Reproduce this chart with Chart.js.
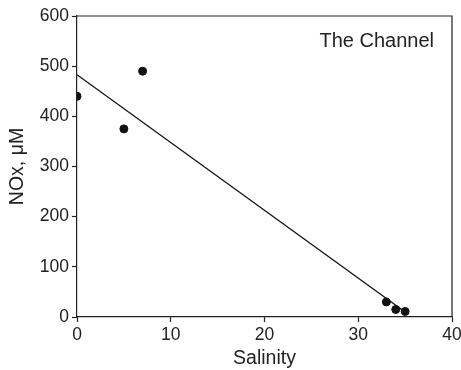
<!DOCTYPE html>
<html>
<head>
<meta charset="utf-8">
<script src="https://cdn.jsdelivr.net/npm/chart.js@4/dist/chart.umd.min.js"></script>
<style>
  html, body { margin: 0; padding: 0; background: #fff; }
  #noxChart { display: block; }
</style>
</head>
<body>
<canvas id="noxChart" width="461" height="370"></canvas>
<script>
// Station samples
var salinity = [0, 5, 7, 33, 34, 35];
var nox = [440, 375, 490, 30, 15, 11];

// Fitted line end points
var fitX = [0, 35];
var fitY = [483, 10];

var xTicks = [0, 10, 20, 30, 40];
var yTicks = [0, 100, 200, 300, 400, 500, 600];

var siteName = 'The Channel';

var inkColor = '#222';
var font = "'Liberation Sans', Arial, sans-serif";

// frame around the plot and the site label
var framePlugin = {
    id: 'frame',
    afterDraw: function (chart) {
        var a = chart.chartArea;
        var c = chart.ctx;
        c.save();
        c.strokeStyle = inkColor;
        c.lineWidth = 1.2;
        c.beginPath();
        c.moveTo(a.left, a.top);
        c.lineTo(a.right, a.top);
        c.lineTo(a.right, a.bottom);
        c.stroke();
        c.fillStyle = inkColor;
        c.font = '20px ' + font;
        c.textAlign = 'right';
        c.textBaseline = 'middle';
        c.fillText(siteName, a.right - 18, a.top + 25);
        c.restore();
    }
};

var ctx = document.getElementById('noxChart');

var noxChart = new Chart(ctx, {
    type: 'scatter',
    data: {
        datasets: [
            {
                data: salinity.map(function (s, i) { return {x: s, y: nox[i]}; }),
                backgroundColor: '#111',
                borderColor: '#111',
                pointRadius: 4,
                pointHoverRadius: 4
            },
            {
                type: 'line',
                data: fitX.map(function (s, i) { return {x: s, y: fitY[i]}; }),
                borderColor: '#111',
                borderWidth: 1.3,
                pointRadius: 0,
                fill: false
            }
        ]
    },
    options: {
        responsive: false,
        animation: false,
        layout: {padding: {left: 0, right: 0, top: 16, bottom: 0}},
        plugins: {
            legend: {display: false},
            tooltip: {enabled: false}
        },
        scales: {
            x: {
                type: 'linear',
                min: 0,
                max: 40,
                afterBuildTicks: function (axis) {
                    axis.ticks = xTicks.map(function (v) { return {value: v}; });
                },
                afterFit: function (axis) {
                    axis.height = 53;
                    axis.paddingRight = 9;
                },
                grid: {drawOnChartArea: false, tickLength: 5, color: inkColor, tickWidth: 1.2},
                border: {color: inkColor, width: 1.2},
                ticks: {color: inkColor, font: {size: 17.5, family: font}, padding: 3},
                title: {display: true, text: 'Salinity', color: inkColor, font: {size: 19.5, family: font}, padding: {top: 0, bottom: 0}}
            },
            y: {
                min: 0,
                max: 600,
                afterBuildTicks: function (axis) {
                    axis.ticks = yTicks.map(function (v) { return {value: v}; });
                },
                afterFit: function (axis) { axis.width = 77; },
                grid: {drawOnChartArea: false, tickLength: 5, color: inkColor, tickWidth: 1.2},
                border: {color: inkColor, width: 1.2},
                ticks: {color: inkColor, font: {size: 17.5, family: font}, padding: 3},
                title: {display: true, text: 'NOx, μM', color: inkColor, font: {size: 19.5, family: font}, padding: {top: 6, bottom: 0}}
            }
        }
    },
    plugins: [framePlugin]
});
</script>
</body>
</html>
